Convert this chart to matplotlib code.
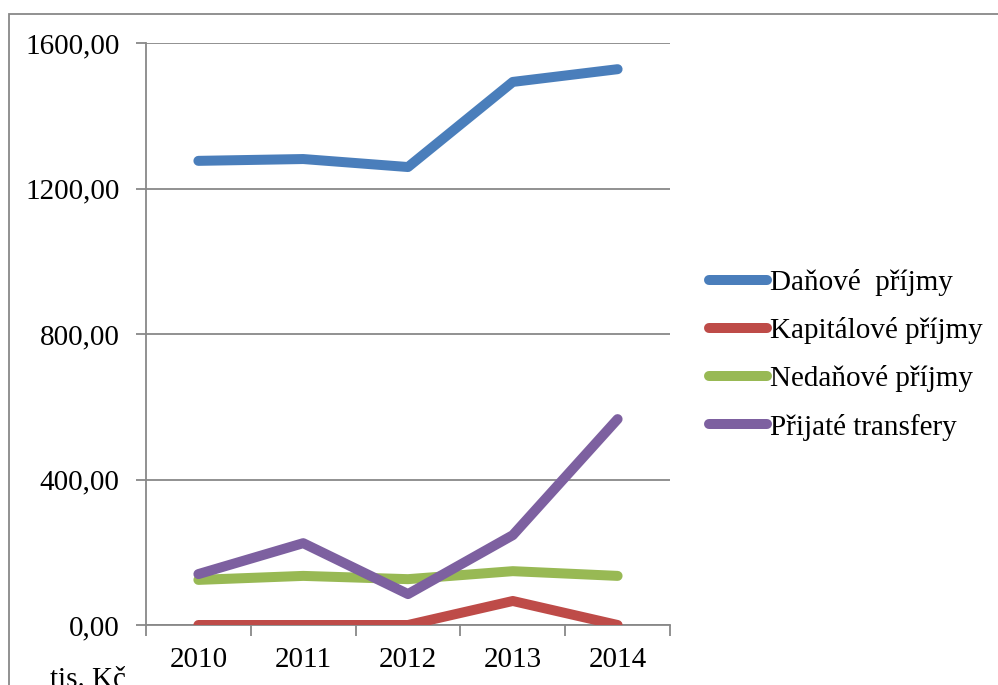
import matplotlib.pyplot as plt
from matplotlib.patches import Rectangle
from matplotlib.ticker import FuncFormatter

# příjmy obce v tis. Kč
roky = ['2010', '2011', '2012', '2013', '2014']
danove = [1276, 1281, 1259, 1493, 1528]
kapitalove = [0, 0, 0, 66, 0]
nedanove = [124, 135, 126, 148, 135]
transfery = [140, 225, 85, 247, 566]

nazvy = ['Daňové  příjmy', 'Kapitálové příjmy', 'Nedaňové příjmy', 'Přijaté transfery']
barvy = ['#4a7ebb', '#be4b48', '#98b954', '#7d60a0']

plt.rcParams['font.family'] = ['Liberation Serif', 'DejaVu Serif']
fs = 21

W, H = 998, 685
fig = plt.figure(figsize=(W / 100, H / 100), dpi=100)
ax = fig.add_axes([146 / W, 1 - 625 / H, (670 - 146) / W, (625 - 43) / H])

x = range(len(roky))
for data, nazev, barva in zip([danove, kapitalove, nedanove, transfery], nazvy, barvy):
    ax.plot(x, data, color=barva, lw=7.2, solid_capstyle='round',
            solid_joinstyle='round', label=nazev, zorder=3)

ax.set_xlim(-0.5, 4.5)
ax.set_ylim(0, 1600)
ax.set_yticks([0, 400, 800, 1200, 1600])
ax.yaxis.set_major_formatter(FuncFormatter(lambda v, p: f'{v:.2f}'.replace('.', ',')))
ax.grid(axis='y', color='#888888', lw=1.3)
ax.set_axisbelow(True)

# popisky kategorií uprostřed, značky mezi nimi
ax.set_xticks([i - 0.5 for i in range(6)], minor=False)
ax.set_xticklabels([])
ax.set_xticks(list(x), minor=True)
ax.set_xticklabels(roky, minor=True)
ax.tick_params(axis='x', which='major', length=8, width=1.3, color='#888888', direction='out')
ax.tick_params(axis='x', which='minor', length=0, labelsize=fs, pad=16)
ax.tick_params(axis='y', length=7, width=1.3, color='#888888', labelsize=fs, pad=12)

for s in ['top', 'right']:
    ax.spines[s].set_visible(False)
for s in ['left', 'bottom']:
    ax.spines[s].set_color('#888888')
    ax.spines[s].set_linewidth(1.3)

leg = fig.legend(loc='upper left', bbox_to_anchor=(700 / W, 1 - 260 / H), frameon=False,
                 fontsize=fs, handlelength=2.0, handletextpad=0.1, labelspacing=0.73,
                 borderaxespad=0, borderpad=0.3)

fig.text(50 / W, 1 - 693 / H, 'tis. Kč', fontsize=fs, va='bottom', ha='left')

# rámeček grafu
fig.patches.append(Rectangle((9 / W, -0.05), 1.1, 1 - 14 / H + 0.05, transform=fig.transFigure,
                             fill=False, edgecolor='#888888', lw=1.3, zorder=0))

fig.savefig('out.png', dpi=100)
